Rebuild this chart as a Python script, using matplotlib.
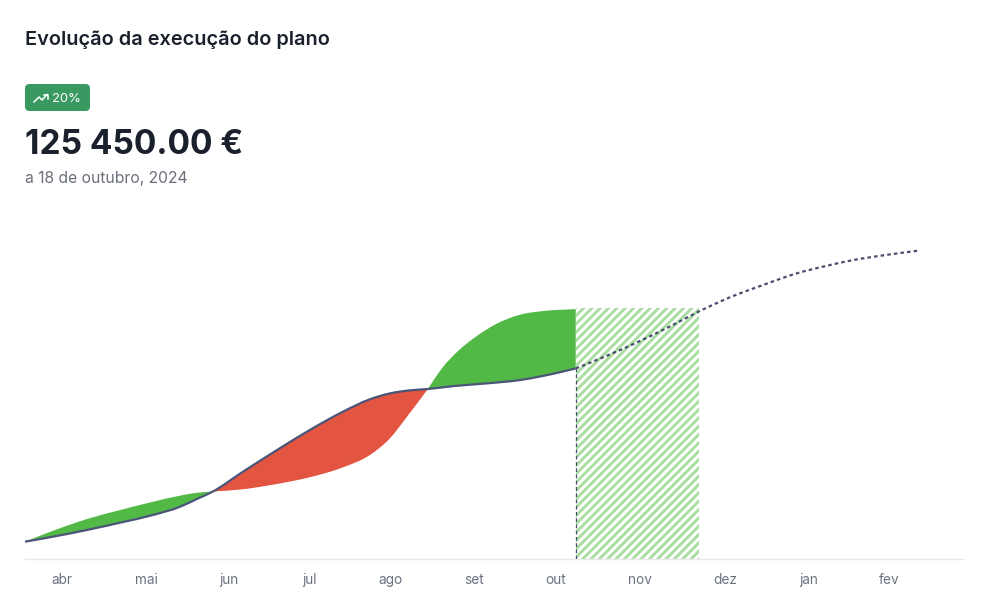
import numpy as np
import matplotlib
matplotlib.use('Agg')
import matplotlib.pyplot as plt
from matplotlib.patches import FancyBboxPatch, PathPatch
from matplotlib.path import Path
from matplotlib.lines import Line2D

plt.rcParams['font.family'] = ['Inter', 'DejaVu Sans']
plt.rcParams['hatch.linewidth'] = 2.1

# eixo x em dias desde 1 de abril, eixo y em milhares de euros
meses = ['abr', 'mai', 'jun', 'jul', 'ago', 'set', 'out', 'nov', 'dez', 'jan', 'fev']
meses_x = [13.4, 44.0, 74.1, 103.2, 132.6, 163.0, 192.8, 223.3, 254.2, 284.6, 314.0]

real_x = [0, 10.2, 22.5, 34.5, 46.5, 56.3, 62.4, 68.2, 79.1, 91.5, 103.4, 115.4, 125.2,
          132.5, 139.7, 146.3, 155.4, 167.7, 179.7, 191.7, 200.0]
real_y = [11.4, 14.7, 19.1, 23.9, 29.0, 34.4, 39.5, 44.4, 57.4, 71.7, 84.9, 96.9, 105.1,
          109.0, 111.0, 111.9, 113.8, 115.6, 117.8, 121.9, 125.45]

plano1_x = [0, 10.2, 22.5, 34.5, 46.5, 56.3, 62.4, 68.2]
plano1_y = [11.4, 18.6, 26.3, 32.2, 37.7, 41.7, 43.6, 44.4]
plano2_x = [68.2, 79.1, 91.5, 103.4, 115.4, 125.2, 132.5, 138.7, 146.3]
plano2_y = [44.4, 45.9, 49.4, 53.8, 60.3, 68.4, 79.4, 93.6, 111.9]
plano3_x = [146.3, 151.4, 157.6, 163.7, 171.0, 179.3, 189.1, 200.0]
plano3_y = [111.9, 125.5, 137.5, 146.3, 154.6, 160.6, 163.4, 164.5]

prev_x = [200.0, 211.3, 223.2, 235.2, 245.0, 255.9, 267.9, 280.2, 291.1, 300.5, 312.9, 324.9]
prev_y = [125.45, 133.8, 143.4, 154.0, 163.2, 172.2, 180.3, 188.0, 193.0, 196.7, 200.2, 203.1]

faixa_x = [200.0, 244.6]
faixa_topo = 165.2

W, H = 989, 614
fig = plt.figure(figsize=(W / 100, H / 100), dpi=100)
ax = fig.add_axes([25 / W, 1 - 559 / H, 939 / W, 319 / H])
ax.set_xlim(0, 341)
ax.set_ylim(0, 210)

verde = '#52b947'
vermelho = '#e35441'


# curva suave pelos pontos lidos (segmentos de bezier)
def curva(x, y):
    x = np.asarray(x, dtype=float)
    y = np.asarray(y, dtype=float)
    m = np.gradient(y, x)
    vert = [(x[0], y[0])]
    cod = [Path.MOVETO]
    for i in range(len(x) - 1):
        dx = (x[i + 1] - x[i]) / 3
        vert += [(x[i] + dx, y[i] + m[i] * dx), (x[i + 1] - dx, y[i + 1] - m[i + 1] * dx), (x[i + 1], y[i + 1])]
        cod += [Path.CURVE4] * 3
    return vert, cod


def zona(px, py, rx, ry, cor):
    v1, c1 = curva(px, py)
    v2, c2 = curva(rx, ry)
    # volta pela curva de baixo, em sentido contrario
    v2 = v2[::-1]
    c2[0] = Path.LINETO
    ax.add_patch(PathPatch(Path(v1 + v2, c1 + c2), facecolor=cor, lw=0, zorder=2))


zona(plano1_x, plano1_y, real_x[:8], real_y[:8], verde)
zona(plano2_x, plano2_y, real_x[7:16], real_y[7:16], vermelho)
zona(plano3_x, plano3_y, real_x[15:], real_y[15:], verde)

ax.fill_between(faixa_x, 0, faixa_topo, facecolor='white', edgecolor='#a9dda1',
                hatch='////', linewidth=0, zorder=1)

v, c = curva(real_x, real_y)
ax.add_patch(PathPatch(Path(v, c), facecolor='none', edgecolor='#4a5578', lw=1.6, zorder=3))
v, c = curva(prev_x, prev_y)
ax.add_patch(PathPatch(Path(v, c), facecolor='none', edgecolor='#4a4e6e', lw=1.6,
                       ls=(0, (1.6, 1.4)), zorder=3))
ax.plot([200, 200], [0, 125.45], color='#4a4e6e', lw=0.9, ls=(0, (3, 2)), zorder=3)

for s in ['top', 'left', 'right']:
    ax.spines[s].set_visible(False)
ax.spines['bottom'].set_color('#e9e9ec')
ax.spines['bottom'].set_linewidth(1)
ax.set_yticks([])
ax.set_xticks(meses_x, meses)
ax.tick_params(axis='x', length=0, pad=9.8, labelsize=9.8, labelcolor='#6b7280')
ax.patch.set_alpha(0)


def fx(p):
    return p / W


def fy(p):
    return 1 - p / H


fig.text(fx(25), fy(40), 'Evolução da execução do plano', fontsize=14.35, fontweight=600,
         color='#1a202c', va='center')
fig.text(fx(25), fy(145), '125 450.00 €', fontsize=24.1, fontweight='bold',
         color='#1a202c', va='center')
fig.text(fx(25), fy(179), 'a 18 de outubro, 2024', fontsize=11.3, color='#6a6f7a', va='center')

# etiqueta com o icone
fig.add_artist(FancyBboxPatch((fx(29), fy(107)), 57 / W, 19 / H,
                              boxstyle='round,pad=0', transform=fig.transFigure,
                              facecolor='#3a9960', edgecolor='#3a9960', lw=8 * 0.72, joinstyle='round'))
icone_x = np.array([34, 39, 42, 47])
icone_y = np.array([102, 97, 100, 94.5])
fig.add_artist(Line2D(fx(icone_x), fy(icone_y), color='white', lw=1.1, transform=fig.transFigure))
fig.add_artist(Line2D(fx(np.array([43.5, 47.5, 47.5])), fy(np.array([94.5, 94.5, 98.5])), color='white', lw=1.1,
                      transform=fig.transFigure))
fig.text(fx(52), fy(98.5), '20%', fontsize=9.4, color='white', va='center')

fig.savefig('out.png', dpi=100, facecolor='white')
